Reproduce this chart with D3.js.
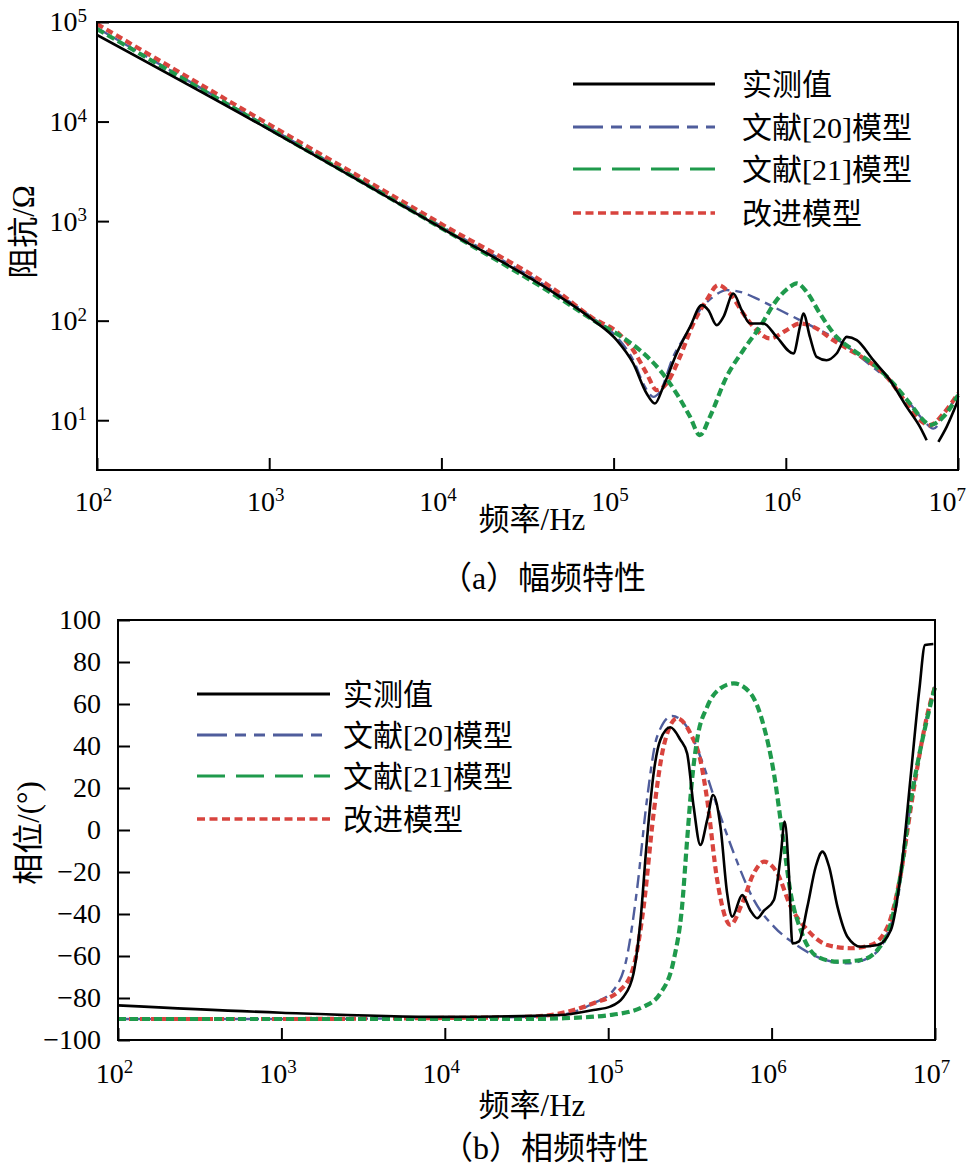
<!DOCTYPE html>
<html><head><meta charset="utf-8">
<script src="https://cdn.jsdelivr.net/npm/d3@7"></script>
<style>
body{margin:0;background:#fff}
text{font-family:"Liberation Serif","Noto Sans CJK SC",serif;fill:#000}
</style>
</head><body>
<svg id="c" width="968" height="1171"></svg>
<script>
// ---------- names & ticks ----------
const seriesNames = ["实测值", "文献[20]模型", "文献[21]模型", "改进模型"];
const freqTicks = [1e2, 1e3, 1e4, 1e5, 1e6, 1e7];
const magTicks = [1e1, 1e2, 1e3, 1e4, 1e5];
const phaseTicks = [-100, -80, -60, -40, -20, 0, 20, 40, 60, 80, 100];

// ---------- (a) magnitude: log10(f/Hz) and log10(|Z|/Ω) ----------
const magMeasLogF = [2, 3, 4, 4.689, 4.882, 5.018, 5.114, 5.192, 5.240, 5.288, 5.366, 5.444, 5.512, 5.550, 5.599, 5.638, 5.695, 5.744, 5.792, 5.870, 5.947, 6.044, 6.082, 6.102, 6.140, 6.179, 6.237, 6.295, 6.354, 6.412, 6.508, 6.605, 6.702, 6.779, 6.818, 6.850, 6.886, 6.934, 7.0];
const magMeasLogZ = [4.87, 3.92, 2.93, 2.239, 2.005, 1.804, 1.570, 1.268, 1.168, 1.335, 1.670, 1.938, 2.156, 2.106, 1.955, 2.038, 2.273, 2.106, 1.972, 1.972, 1.837, 1.670, 1.938, 2.072, 1.837, 1.636, 1.603, 1.670, 1.837, 1.804, 1.603, 1.402, 1.134, 0.933, 0.799, null, 0.782, 0.933, 1.2];

const magRef20LogF = [2, 3, 4, 4.689, 4.882, 5.018, 5.114, 5.182, 5.230, 5.269, 5.346, 5.424, 5.501, 5.579, 5.656, 5.733, 5.850, 5.947, 6.044, 6.140, 6.237, 6.334, 6.431, 6.528, 6.624, 6.721, 6.799, 6.857, 6.915, 7.0];
const magRef20LogZ = [4.94, 3.94, 2.95, 2.256, 2.022, 1.837, 1.603, 1.335, 1.235, 1.285, 1.636, 1.871, 2.106, 2.240, 2.307, 2.290, 2.206, 2.122, 2.038, 1.955, 1.871, 1.770, 1.636, 1.503, 1.369, 1.168, 1.000, 0.916, 1.034, 1.268];

const magRef21LogF = [2, 3, 4, 4.689, 4.882, 5.076, 5.153, 5.269, 5.366, 5.444, 5.501, 5.559, 5.656, 5.753, 5.850, 5.947, 6.024, 6.063, 6.121, 6.198, 6.295, 6.392, 6.528, 6.624, 6.721, 6.799, 6.837, 6.915, 7.0];
const magRef21LogZ = [4.93, 3.93, 2.93, 2.223, 2.005, 1.804, 1.703, 1.503, 1.268, 1.034, 0.849, 1.034, 1.436, 1.703, 1.938, 2.206, 2.340, 2.374, 2.290, 2.072, 1.837, 1.703, 1.536, 1.369, 1.168, 1.000, 0.950, 1.034, 1.251];

const magImpLogF = [2, 3, 4, 4.689, 4.882, 5.018, 5.114, 5.192, 5.250, 5.308, 5.385, 5.463, 5.540, 5.608, 5.675, 5.753, 5.830, 5.908, 6.005, 6.082, 6.160, 6.276, 6.373, 6.470, 6.586, 6.702, 6.779, 6.837, 6.915, 7.0];
const magImpLogZ = [4.98, 3.97, 2.97, 2.273, 2.022, 1.888, 1.703, 1.469, 1.302, 1.369, 1.636, 1.971, 2.206, 2.357, 2.273, 2.072, 1.905, 1.821, 1.905, 1.972, 1.938, 1.804, 1.703, 1.603, 1.436, 1.168, 1.000, 0.950, 1.067, 1.268];

// ---------- (b) phase: log10(f/Hz) and phase in degrees ----------
const phMeasLogF = [2, 3, 4, 4.706, 4.910, 5.012, 5.094, 5.155, 5.196, 5.237, 5.278, 5.319, 5.380, 5.442, 5.483, 5.523, 5.564, 5.606, 5.642, 5.687, 5.728, 5.759, 5.820, 5.871, 5.912, 5.953, 6.014, 6.055, 6.080, 6.106, 6.127, 6.168, 6.219, 6.270, 6.311, 6.352, 6.403, 6.464, 6.546, 6.648, 6.730, 6.791, 6.853, 6.904, 6.939, 6.990];
const phMeasDeg = [-83.5, -87, -89, -88.1, -85.7, -84.1, -79.4, -68.3, -44.4, -4.8, 27, 42.9, 48.9, 42.9, 36.5, 11.1, -7.1, 4.8, 16.7, 1.6, -30.2, -41.3, -31, -38.4, -42, -38.4, -33.3, -12.7, 4, -20.6, -54, -53, -36.5, -17.5, -10.3, -17.5, -36.5, -50.8, -55.6, -54.8, -47.6, -20.6, 27, 66.7, 88.1, 88.6];

const phRef20LogF = [2, 3, 4, 4.5, 4.706, 4.910, 5.033, 5.115, 5.176, 5.237, 5.299, 5.391, 5.483, 5.564, 5.667, 5.769, 5.891, 6.014, 6.137, 6.301, 6.464, 6.607, 6.710, 6.771, 6.833, 6.894, 6.955, 6.996];
const phRef20Deg = [-90, -90, -89.5, -89, -88.1, -82.5, -76.2, -60.3, -28.6, 14.3, 44.4, 54.3, 49, 34.9, 11.1, -11.1, -33.3, -46, -54, -61.1, -63.5, -60.3, -49.2, -33.3, 3.2, 30.2, 55.6, 68.2];

const phRef21LogF = [2, 3, 4, 4.5, 4.706, 5.012, 5.217, 5.319, 5.401, 5.452, 5.483, 5.513, 5.544, 5.606, 5.687, 5.769, 5.871, 5.953, 6.014, 6.066, 6.117, 6.178, 6.280, 6.403, 6.546, 6.648, 6.730, 6.791, 6.853, 6.914, 6.955, 7.0];
const phRef21Deg = [-90, -90, -90, -90, -89.7, -88.1, -84.1, -77.8, -61.9, -36.5, -4.8, 23.8, 42.9, 58.7, 67.5, 69.8, 65.1, 49.2, 27, -1.6, -30.2, -47.6, -60.3, -62.7, -61.9, -57.1, -44.4, -20.6, 14.3, 39.7, 54, 68.2];

const phImpLogF = [2, 3, 4, 4.5, 4.706, 4.910, 5.074, 5.155, 5.217, 5.278, 5.339, 5.421, 5.503, 5.564, 5.606, 5.667, 5.748, 5.820, 5.891, 5.953, 6.035, 6.117, 6.219, 6.342, 6.485, 6.607, 6.710, 6.791, 6.853, 6.914, 6.955, 7.0];
const phImpDeg = [-90, -90, -89.5, -89, -87.3, -82.5, -76.2, -65.1, -36.5, 7.9, 39.7, 53.2, 46, 33.3, 14.3, -23.8, -45.2, -34.9, -20.6, -15.1, -20.6, -36.5, -47.6, -54.8, -56.3, -54.8, -46, -20.6, 11.1, 39.7, 55.6, 68.2];

// ---------- styles ----------
const styles = [
  {color: "#000000", width: 2.6, dash: null, legendDash: null},
  {color: "#4f5d9c", width: 2.4, dash: "13,6,7,6", legendDash: "30,8,11,8,11,8"},
  {color: "#1f9a4c", width: 4.2, dash: "8,4", legendDash: "28,11"},
  {color: "#d8443e", width: 4.2, dash: "7,4", legendDash: "8,4.5"}
];
const drawOrder = [1, 3, 2, 0];

const svg = d3.select("#c");

function toPts(lf, v) { return lf.map((e, i) => ({f: Math.pow(10, e), v: v[i]})); }

function supLabels(g, isX, maxX) {
  g.selectAll(".tick text").each(function(d) {
    const t = d3.select(this);
    const e = Math.round(Math.log10(d));
    t.text(null);
    t.append("tspan").text("10");
    t.append("tspan").attr("dy", "-0.5em").style("font-size", "19px").text(e);
    if (isX) {
      t.attr("x", -4);
      const bb = this.getBBox();
      const tx = +(this.parentNode.getAttribute("transform").match(/translate\(([-\d.]+)/)[1]);
      if (tx + bb.x + bb.width > maxX) t.attr("x", -4 - (tx + bb.x + bb.width - maxX));
    }
  });
}

function styleAxis(g) {
  g.select(".domain").remove();
  g.selectAll(".tick line").attr("stroke", "#000").attr("stroke-width", 2);
  g.selectAll(".tick text").style("font-size", "28px");
  g.attr("font-family", null).attr("font-size", null);
}

function drawPanel(cfg) {
  const {x, y, series, legendX, legendTextX, legendY, isLogY} = cfg;
  const [x0, x1] = x.range();
  const [yb, yt] = y.range();
  const g = svg.append("g");

  const line = d3.line()
    .defined(d => d.v !== null)
    .x(d => x(d.f))
    .y(d => y(isLogY ? Math.pow(10, d.v) : d.v))
    .curve(d3.curveMonotoneX);

  const clipId = "clip" + Math.round(yt);
  g.append("clipPath").attr("id", clipId).append("rect")
    .attr("x", x0).attr("y", yt - 4).attr("width", x1 - x0 + 4).attr("height", yb - yt + 8);

  const lg = g.append("g").attr("clip-path", `url(#${clipId})`);
  drawOrder.forEach(i => {
    const s = styles[i];
    lg.append("path")
      .datum(series[i])
      .attr("d", line)
      .attr("fill", "none")
      .attr("stroke", s.color)
      .attr("stroke-width", s.width)
      .attr("stroke-dasharray", s.dash)
      .attr("stroke-linejoin", "round");
  });

  // axes
  const xa = g.append("g").attr("transform", `translate(0,${yb})`)
    .call(d3.axisBottom(x).tickValues(freqTicks).tickSizeInner(-12).tickSizeOuter(0).tickPadding(cfg.xPad));
  styleAxis(xa);
  supLabels(xa, true, 966);

  const ya = g.append("g").attr("transform", `translate(${x0},0)`)
    .call(d3.axisLeft(y).tickValues(cfg.yTicks).tickSizeInner(-12).tickSizeOuter(0).tickPadding(cfg.yPad)
      .tickFormat(isLogY ? null : d3.format("d")));
  styleAxis(ya);
  if (isLogY) supLabels(ya, false);

  g.append("rect").attr("x", x0).attr("y", yt).attr("width", x1 - x0).attr("height", yb - yt)
    .attr("fill", "none").attr("stroke", "#000").attr("stroke-width", 2);

  // legend
  const leg = g.append("g");
  seriesNames.forEach((name, i) => {
    const s = styles[i];
    const yy = legendY[i];
    leg.append("line").attr("x1", legendX[0]).attr("x2", legendX[1]).attr("y1", yy).attr("y2", yy)
      .attr("stroke", s.color).attr("stroke-width", i === 3 ? 3.5 : 3)
      .attr("stroke-dasharray", s.legendDash);
    leg.append("text").attr("x", legendTextX).attr("y", yy).attr("dy", "0.36em")
      .style("font-size", "30px").text(name);
  });

  // titles
  g.append("text").attr("x", cfg.xTitle[0]).attr("y", cfg.xTitle[1]).attr("text-anchor", "middle")
    .style("font-size", "31px").text("频率/Hz");
  g.append("text").attr("x", cfg.caption[0]).attr("y", cfg.caption[1]).attr("text-anchor", "middle")
    .style("font-size", "32px").text(cfg.captionText);
  g.append("text").attr("transform", `translate(${cfg.yTitle[0]},${cfg.yTitle[1]}) rotate(-90)`)
    .attr("text-anchor", "middle").style("font-size", "31px").text(cfg.yTitleText);
}

// ---------- panel (a) ----------
const xA = d3.scaleLog().domain([1e2, 1e7]).range([97, 958]);
const yA = d3.scaleLog().domain([Math.pow(10, 0.5), 1e5]).range([470, 22]);
drawPanel({
  x: xA, y: yA, isLogY: true, yTicks: magTicks, xPad: 21, yPad: 10,
  series: [toPts(magMeasLogF, magMeasLogZ), toPts(magRef20LogF, magRef20LogZ), toPts(magRef21LogF, magRef21LogZ), toPts(magImpLogF, magImpLogZ)],
  legendX: [573, 715], legendTextX: 742, legendY: [84, 127, 169, 213],
  xTitle: [532, 530], caption: [543, 589], captionText: "（a）幅频特性",
  yTitle: [34, 232], yTitleText: "阻抗/Ω"
});

// ---------- panel (b) ----------
const xB = d3.scaleLog().domain([1e2, 1e7]).range([118, 935]);
const yB = d3.scaleLinear().domain([-100, 100]).range([1040, 620]);
drawPanel({
  x: xB, y: yB, isLogY: false, yTicks: phaseTicks, xPad: 23, yPad: 17,
  series: [toPts(phMeasLogF, phMeasDeg), toPts(phRef20LogF, phRef20Deg), toPts(phRef21LogF, phRef21Deg), toPts(phImpLogF, phImpDeg)],
  legendX: [197, 330], legendTextX: 343, legendY: [694, 735, 776, 819],
  xTitle: [532, 1116], caption: [545, 1159], captionText: "（b）相频特性",
  yTitle: [39, 833], yTitleText: "相位/(°)"
});
</script>
</body></html>
